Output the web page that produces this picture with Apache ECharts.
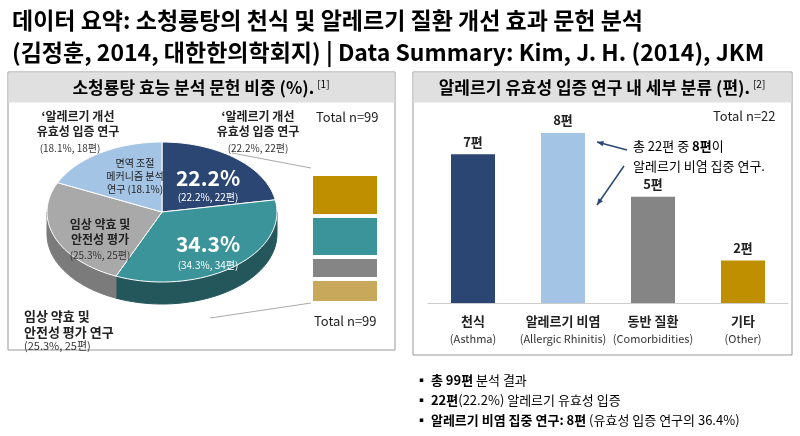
<!DOCTYPE html>
<html><head><meta charset="utf-8">
<script src="https://cdn.jsdelivr.net/npm/echarts@6/dist/echarts.min.js"></script>
<style>html,body{margin:0;background:#fff}#c{width:800px;height:436px}</style>
</head><body><div id="c"></div>
<script>
// 파이 데이터 (시계방향, 12시 방향부터)
let pieNames = ["알레르기 개선 유효성 입증 연구", "임상 약효 및 안전성 평가(34.3)", "임상 약효 및 안전성 평가", "면역 조절 메커니즘 분석 연구"];
let pieValues = [22.2, 34.3, 25.3, 18.1];
let pieTop = ["#2b4673", "#3b9499", "#a9a9a9", "#a3c4e4"];
let pieSide = ["#1f3457", "#24575b", "#7b7b7b", "#7f9bb6"];

// 오른쪽 누적 막대 (아래부터)
let stackValues = [24, 22, 41, 42];
let stackColors = ["#c8a85a", "#858585", "#3b9499", "#bf8f00"];

// 막대 차트
let barCats = ["천식", "알레르기 비염", "동반 질환", "기타"];
let barSub = ["(Asthma)", "(Allergic Rhinitis)", "(Comorbidities)", "(Other)"];
let barValues = [7, 8, 5, 2];
let barColors = ["#2b4673", "#a3c4e4", "#858585", "#bf8f00"];

let FONT = "Noto Sans CJK KR";
let cx = 162, cy = 212, rx = 115, ry = 70, depth = 22;
let total = pieValues.reduce((a, b) => a + b, 0);
let starts = [];
let acc = 0;
pieValues.forEach(v => { starts.push(acc); acc += v; });

function pt(t, dy) {
    let a = -Math.PI / 2 + t / total * Math.PI * 2;
    return [cx + rx * Math.cos(a), cy + ry * Math.sin(a) + (dy || 0)];
}

function topItem(params, api) {
    let i = params.dataIndex;
    let s = starts[i], e = s + pieValues[i];
    let pts = [[cx, cy]];
    for (let k = 0; k <= 40; k++) pts.push(pt(s + (e - s) * k / 40));
    return { type: "polygon", shape: { points: pts }, style: { fill: pieTop[i], stroke: "#fff", lineWidth: 1 } };
}

function sideItem(params, api) {
    let i = params.dataIndex;
    let s = starts[i], e = s + pieValues[i];
    let lo = Math.max(s, total / 4), hi = Math.min(e, total * 3 / 4);
    if (hi <= lo) return null;
    let up = [], dn = [];
    for (let k = 0; k <= 40; k++) {
        let t = lo + (hi - lo) * k / 40;
        up.push(pt(t));
        dn.push(pt(t, depth));
    }
    return { type: "polygon", shape: { points: up.concat(dn.reverse()) }, style: { fill: pieSide[i], stroke: pieSide[i] } };
}

let chart = echarts.init(document.getElementById("c"));

// rich 텍스트: parts = [[text, style-key], ...]
let rich = {
    n: { fontFamily: FONT, fontSize: 13, color: "#222" },
    b: { fontFamily: FONT, fontSize: 13, color: "#222", fontWeight: "bold" },
    h: { fontFamily: FONT, fontSize: 17, color: "#111", fontWeight: "bold" },
    sup: { fontFamily: FONT, fontSize: 10, color: "#222", verticalAlign: "top", padding: [0, 0, 8, 3] },
    t: { fontFamily: FONT, fontSize: 23, color: "#222", fontWeight: "bold" }
};
function rtxt(x, y, parts, align) {
    return { type: "text", x: x, y: y, z: 20, style: { text: parts.map(p => "{" + p[1] + "|" + p[0] + "}").join(""), rich: rich, align: align || "left", verticalAlign: "middle" } };
}
function ctxt(x, y, t, size, bold, fill, lh) {
    return { type: "text", x: x, y: y, z: 20, style: { text: t, font: (bold ? "bold " : "") + size + "px '" + FONT + "'", fill: fill || "#222", align: "center", verticalAlign: "middle", lineHeight: lh || size + 3 } };
}
function ltxt(x, y, t, size, bold, fill, lh) {
    let g = ctxt(x, y, t, size, bold, fill, lh);
    g.style.align = "left";
    return g;
}

let graphics = [
    rtxt(12, 20, [["데이터 요약: 소청룡탕의 천식 및 알레르기 질환 개선 효과 문헌 분석", "t"]]),
    rtxt(12, 52, [["(김정훈, 2014, 대한한의학회지) | Data Summary: Kim, J. H. (2014), JKM", "t"]]),
    // 왼쪽 패널
    { type: "rect", shape: { x: 8, y: 72, width: 387, height: 278 }, style: { fill: "#fff", stroke: "#999", lineWidth: 1 } },
    { type: "rect", shape: { x: 8.5, y: 72.5, width: 386, height: 30 }, style: { fill: "#e0e0e0" } },
    rtxt(201, 88, [["소청룡탕 효능 분석 문헌 비중 (%).", "h"], ["[1]", "sup"]], "center"),
    ltxt(316, 117, "Total n=99", 13),
    ltxt(314, 321, "Total n=99", 13),
    // 오른쪽 패널
    { type: "rect", shape: { x: 413, y: 72, width: 379, height: 283 }, style: { fill: "#fff", stroke: "#999", lineWidth: 1 } },
    { type: "rect", shape: { x: 413.5, y: 72.5, width: 378, height: 30 }, style: { fill: "#e0e0e0" } },
    rtxt(602, 88, [["알레르기 유효성 입증 연구 내 세부 분류 (편).", "h"], ["[2]", "sup"]], "center"),
    ltxt(713, 116, "Total n=22", 13),
    // 파이 라벨
    ctxt(78, 124, "‘알레르기 개선\n유효성 입증 연구", 12, true, "#222", 15),
    ctxt(70, 148, "(18.1%, 18편)", 10, false, "#333"),
    ctxt(258, 124, "‘알레르기 개선\n유효성 입증 연구", 12, true, "#222", 15),
    ctxt(258, 148, "(22.2%, 22편)", 10, false, "#333"),
    ctxt(135, 176, "면역 조절\n메커니즘 분석\n연구 (18.1%)", 10, false, "#222", 13),
    ctxt(208, 178, "22.2%", 21, true, "#fff"),
    ctxt(208, 197, "(22.2%, 22편)", 10, false, "#fff"),
    ctxt(208, 244, "34.3%", 21, true, "#fff"),
    ctxt(208, 265, "(34.3%, 34편)", 10, false, "#fff"),
    ctxt(100, 232, "임상 약효 및\n안전성 평가", 12, true, "#222", 15),
    ctxt(100, 255, "(25.3%, 25편)", 10, false, "#333"),
    ltxt(24, 324, "임상 약효 및\n안전성 평가 연구", 13, true, "#222", 16),
    ltxt(24, 346, "(25.3%, 25편)", 11, false, "#333"),
    // 연결선
    { type: "line", shape: { x1: 232, y1: 153, x2: 311, y2: 168 }, style: { stroke: "#aaa", lineWidth: 1 } },
    { type: "line", shape: { x1: 210, y1: 318, x2: 311, y2: 303 }, style: { stroke: "#aaa", lineWidth: 1 } },
    // 주석
    rtxt(633, 146, [["총 22편 중 ", "n"], ["8편", "b"], ["이", "n"]]),
    rtxt(633, 166, [["알레르기 비염 집중 연구.", "n"]]),
    // 하단 요약
    rtxt(415, 380, [["▪ ", "b"], ["총 99편", "b"], [" 분석 결과", "n"]]),
    rtxt(415, 400, [["▪ ", "b"], ["22편", "b"], ["(22.2%) 알레르기 유효성 입증", "n"]]),
    rtxt(415, 420, [["▪ ", "b"], ["알레르기 비염 집중 연구: 8편", "b"], [" (유효성 입증 연구의 36.4%)", "n"]])
];

// 화살표
function arrow(x1, y1, x2, y2) {
    let a = Math.atan2(y2 - y1, x2 - x1), L = 7;
    graphics.push({ type: "line", z: 20, shape: { x1: x1, y1: y1, x2: x2, y2: y2 }, style: { stroke: "#2b4673", lineWidth: 1.5 } });
    graphics.push({ type: "polygon", z: 20, shape: { points: [[x2, y2], [x2 - L * Math.cos(a - 0.4), y2 - L * Math.sin(a - 0.4)], [x2 - L * Math.cos(a + 0.4), y2 - L * Math.sin(a + 0.4)]] }, style: { fill: "#2b4673" } });
}
arrow(627, 150, 597, 142);
arrow(624, 166, 597, 205);

let option = {
    animation: false,
    textStyle: { fontFamily: FONT },
    grid: [
        { left: 311, top: 168, width: 68, height: 135 },
        { left: 428, right: 12, top: 133, bottom: 133 }
    ],
    xAxis: [
        { gridIndex: 0, type: "category", data: ["n"], show: false },
        {
            gridIndex: 1, type: "category", data: barCats,
            axisLine: { lineStyle: { color: "#ccc" } }, axisTick: { show: false },
            axisLabel: {
                interval: 0, margin: 10, lineHeight: 17,
                formatter: (v, i) => "{a|" + v + "}\n{b|" + barSub[i] + "}",
                rich: { a: { fontWeight: "bold", fontSize: 13, color: "#222", fontFamily: FONT }, b: { fontSize: 11, color: "#333", fontFamily: FONT } }
            }
        }
    ],
    yAxis: [
        { gridIndex: 0, type: "value", min: 0, max: stackValues.reduce((a, b) => a + b, 0) + 6, show: false },
        { gridIndex: 1, type: "value", min: 0, max: 8, show: false }
    ],
    series: [
        { type: "custom", coordinateSystem: "none", renderItem: sideItem, data: pieValues, z: 1 },
        { type: "custom", coordinateSystem: "none", renderItem: topItem, data: pieValues, z: 2 }
    ].concat(stackValues.map((v, i) => ({
        type: "bar", xAxisIndex: 0, yAxisIndex: 0, stack: "s", data: [v], barWidth: "100%",
        itemStyle: { color: stackColors[i], borderColor: "#fff", borderWidth: 2 }
    }))).concat([{
        type: "bar", xAxisIndex: 1, yAxisIndex: 1, barWidth: 44,
        data: barValues.map((v, i) => ({ value: v, itemStyle: { color: barColors[i] } })),
        label: { show: true, position: "top", formatter: "{c}편", fontWeight: "bold", fontSize: 13, color: "#222", fontFamily: FONT, distance: 6 }
    }]),
    graphic: graphics
};

chart.setOption(option);
window.addEventListener("resize", chart.resize);
</script>
</body></html>
